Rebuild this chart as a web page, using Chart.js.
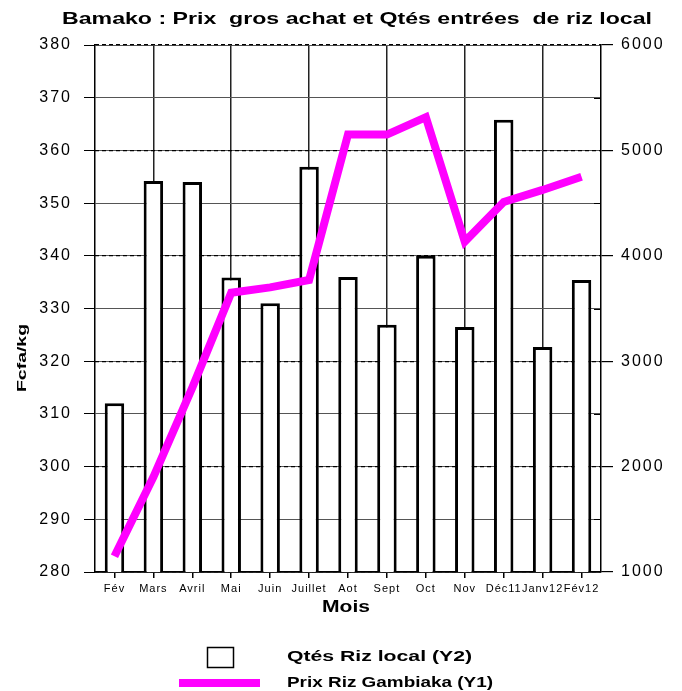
<!DOCTYPE html>
<html>
<head>
<meta charset="utf-8">
<script src="https://cdn.jsdelivr.net/npm/chart.js@4/dist/chart.umd.min.js"></script>
<style>
  html, body { margin: 0; padding: 0; background: #fff; }
  #wrap { width: 682px; height: 691px; }
</style>
</head>
<body>
<div id="wrap"><canvas id="chart" width="682" height="691"></canvas></div>
<script>
// Data
const mois = ['Fév', 'Mars', 'Avril', 'Mai', 'Juin', 'Juillet', 'Aot', 'Sept', 'Oct', 'Nov', 'Déc11', 'Janv12', 'Fév12'];
const prixGambiaka = [283, 298, 315, 333, 334, 335.4, 363, 363, 366.3, 342.7, 350.2, 352.5, 355];   // Y1 Fcfa/kg
const qtesRizLocal = [2600, 4710, 4700, 3795, 3550, 4845, 3800, 3345, 4000, 3325, 5290, 3135, 3770]; // Y2
const prixAxis = { min: 280, max: 380, step: 10 };
const qtesAxis = { min: 1000, max: 6000, step: 1000 };

const FONT = '"Liberation Sans", Arial, sans-serif';
Chart.defaults.font.family = FONT;
Chart.defaults.color = '#000';

// letter spacing of tick labels (the original font is wide)
const tickSpacing = { x: '1px', y: '2px', y2: '2px' };

// draw text stretched horizontally to a given width
function wideText(ctx, text, x, y, width, font, align) {
    ctx.save();
    ctx.font = font;
    ctx.letterSpacing = '0px';
    ctx.textAlign = 'left';
    ctx.textBaseline = 'middle';
    const w = ctx.measureText(text).width;
    const sx = width / w;
    const start = align === 'center' ? x - width / 2 : x;
    ctx.translate(start, y);
    ctx.scale(sx, 1);
    ctx.fillText(text, 0, 0);
    ctx.restore();
}

const decor = {
    id: 'decor',
    beforeDraw(chart) {
        Object.keys(tickSpacing).forEach(id => {
            const s = chart.scales[id];
            if (!s || s._spaced) return;
            const orig = s.drawLabels;
            s.drawLabels = function (area) {
                chart.ctx.letterSpacing = tickSpacing[id];
                orig.call(this, area);
                chart.ctx.letterSpacing = '0px';
            };
            s._spaced = true;
        });
    },
    afterDraw(chart) {
        const ctx = chart.ctx;
        const area = chart.chartArea;
        ctx.save();
        ctx.fillStyle = '#000';

        // title
        wideText(ctx, 'Bamako : Prix  gros achat et Qtés entrées  de riz local', 62, 19, 590, 'bold 17px ' + FONT, 'left');

        // x axis title
        wideText(ctx, 'Mois', 346, 607, 48, 'bold 17px ' + FONT, 'center');

        // y axis title
        ctx.save();
        ctx.translate(22, 358);
        ctx.rotate(-Math.PI / 2);
        wideText(ctx, 'Fcfa/kg', 0, 0, 68, 'bold 13px ' + FONT, 'center');
        ctx.restore();

        // minor ticks inside the right axis
        const y2 = chart.scales.y2;
        ctx.strokeStyle = '#000';
        ctx.lineWidth = 1;
        for (let v = qtesAxis.min + qtesAxis.step / 2; v < qtesAxis.max; v += qtesAxis.step) {
            const py = Math.round(y2.getPixelForValue(v)) + 0.5;
            ctx.beginPath();
            ctx.moveTo(area.right - 7, py);
            ctx.lineTo(area.right, py);
            ctx.stroke();
        }

        // legend
        ctx.lineWidth = 1.5;
        ctx.strokeRect(207.5, 647.5, 26, 20);
        ctx.strokeStyle = '#ff00ff';
        ctx.lineWidth = 8;
        ctx.beginPath();
        ctx.moveTo(179, 683);
        ctx.lineTo(260, 683);
        ctx.stroke();
        ctx.fillStyle = '#000';
        wideText(ctx, 'Qtés Riz local (Y2)', 287, 657, 185, 'bold 14px ' + FONT, 'left');
        wideText(ctx, 'Prix Riz Gambiaka (Y1)', 287, 683, 206, 'bold 14px ' + FONT, 'left');

        ctx.restore();
    }
};

new Chart(document.getElementById('chart'), {
    data: {
        labels: mois,
        datasets: [
            {
                type: 'line',
                label: 'Prix Riz Gambiaka (Y1)',
                data: prixGambiaka,
                yAxisID: 'y',
                borderColor: '#ff00ff',
                borderWidth: 8,
                pointRadius: 0,
                tension: 0,
                borderCapStyle: 'butt',
                borderJoinStyle: 'miter',
                order: 1
            },
            {
                type: 'bar',
                label: 'Qtés Riz local (Y2)',
                data: qtesRizLocal,
                yAxisID: 'y2',
                backgroundColor: '#fff',
                borderColor: '#000',
                borderWidth: 3,
                borderSkipped: false,
                barPercentage: 0.5,
                categoryPercentage: 1,
                order: 2
            }
        ]
    },
    options: {
        responsive: false,
        devicePixelRatio: 1,
        animation: false,
        layout: { padding: { top: 45, left: 0, right: 0, bottom: 0 } },
        plugins: {
            legend: { display: false },
            title: { display: false },
            tooltip: { enabled: false }
        },
        scales: {
            x: {
                offset: true,
                grid: {
                    offset: false,
                    color: ctx => (ctx.index % 2 === 1 ? '#222' : 'rgba(0,0,0,0)'),
                    lineWidth: 1.5,
                    tickColor: '#000',
                    tickLength: 6
                },
                border: { color: '#000', width: 1.5 },
                ticks: {
                    color: '#000',
                    font: { size: 11 },
                    maxRotation: 0,
                    autoSkip: false,
                    padding: 4
                },
                afterFit(s) { s.height = 119; }
            },
            y: {
                position: 'left',
                min: prixAxis.min,
                max: prixAxis.max,
                ticks: { stepSize: prixAxis.step, color: '#000', font: { size: 16 }, padding: 12 },
                grid: { color: '#555', lineWidth: 1, tickColor: '#000', tickLength: 11 },
                border: { color: '#000', width: 1.5 },
                afterFit(s) { s.width = 95; }
            },
            y2: {
                position: 'right',
                min: qtesAxis.min,
                max: qtesAxis.max,
                ticks: {
                    stepSize: qtesAxis.step, color: '#000', font: { size: 16 }, padding: 8,
                    callback: v => String(v)
                },
                grid: { color: '#000', lineWidth: 1.2, tickColor: '#000', tickLength: 12, tickBorderDash: [] },
                border: { color: '#000', width: 1.5, dash: [4, 3] },
                afterFit(s) { s.width = 81; }
            }
        }
    },
    plugins: [decor]
});
</script>
</body>
</html>
